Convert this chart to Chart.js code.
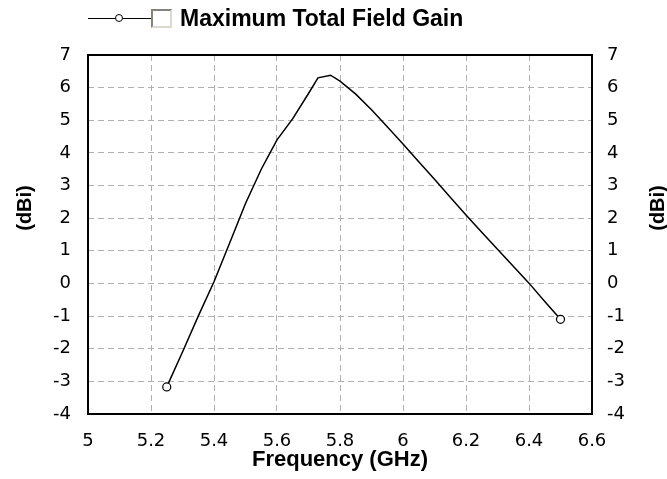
<!DOCTYPE html>
<html>
<head>
<meta charset="utf-8">
<script src="https://cdn.jsdelivr.net/npm/chart.js@4/dist/chart.umd.min.js"></script>
<style>
  body { margin: 0; background: #fff; }
  #wrap { position: relative; width: 667px; height: 479px; }
  #legend { position: absolute; left: 88px; top: 4px; height: 28px; display: flex; align-items: center;
            font-family: 'Liberation Sans', Arial, sans-serif; font-weight: bold; font-size: 23px; color: #000; }
  #legend .sym { position: relative; width: 63px; height: 28px; }
  #legend .sym .ln { position: absolute; left: 0; right: 0; top: 14px; border-top: 1px solid #000; }
  #legend .sym .pt { position: absolute; left: 27px; top: 10px; width: 8px; height: 8px; border: 1px solid #000;
                     border-radius: 50%; background: #fff; box-sizing: border-box; }
  #legend .box { width: 17px; height: 15px; margin-right: 8px; margin-top: 1px;
                 border-top: 2px solid #85837a; border-left: 2px solid #85837a;
                 border-right: 2px solid #dcd9d0; border-bottom: 2px solid #dcd9d0; background: #fff; }
</style>
</head>
<body>
<div id="wrap">
  <canvas id="gain" width="667" height="479"></canvas>
  <div id="legend"><div class="sym"><div class="ln"></div><div class="pt"></div></div><div class="box"></div><span>Maximum Total Field Gain</span></div>
</div>
<script>
// frequency (GHz) and gain (dBi)
var freqs = [5.25, 5.30, 5.35, 5.40, 5.45, 5.50, 5.55, 5.60, 5.65, 5.70, 5.73, 5.77, 5.80,
             5.85, 5.90, 5.95, 6.00, 6.05, 6.10, 6.15, 6.20, 6.25, 6.30, 6.35, 6.40, 6.45, 6.50];
var gains = [-3.17, -2.10, -1.00, 0.05, 1.25, 2.45, 3.50, 4.40, 5.05, 5.82, 6.30, 6.38, 6.20,
             5.80, 5.32, 4.80, 4.27, 3.73, 3.19, 2.64, 2.10, 1.57, 1.05, 0.53, 0.01, -0.55, -1.10];
var xTicks = [5, 5.2, 5.4, 5.6, 5.8, 6, 6.2, 6.4, 6.6];
var yTicks = [-4, -3, -2, -1, 0, 1, 2, 3, 4, 5, 6, 7];
var seriesName = 'Maximum Total Field Gain';
var xTitle = 'Frequency (GHz)';
var yTitle = '(dBi)';

Chart.defaults.font.family = "'Liberation Sans', Arial, sans-serif";
Chart.defaults.color = '#000';

var points = freqs.map(function (f, i) { return {x: f, y: gains[i]}; });
var last = points.length - 1;

var gridDash = [6, 4];
var gridColor = '#b0b0b0';
var tickFont = {family: "'DejaVu Sans', sans-serif", size: 18};

// frame around the plot plus the two rotated y titles
var framePlugin = {
  id: 'frame',
  afterDatasetsDraw: function (chart) {
    var a = chart.chartArea, c = chart.ctx;
    c.save();
    c.strokeStyle = '#000';
    c.lineWidth = 2;
    c.strokeRect(a.left, a.top, a.right - a.left, a.bottom - a.top);
    c.restore();
  },
  afterDraw: function (chart) {
    var c = chart.ctx;
    c.save();
    c.font = "bold 20px 'Liberation Sans', Arial, sans-serif";
    c.fillStyle = '#000';
    c.textAlign = 'center';
    c.textBaseline = 'middle';
    [[25, 208], [658, 208]].forEach(function (p) {
      c.save();
      c.translate(p[0], p[1]);
      c.rotate(-Math.PI / 2);
      c.fillText(yTitle, 0, 0);
      c.restore();
    });
    c.restore();
  }
};

var yAxis = function (side, pad, width) {
  return {
    type: 'linear',
    position: side,
    min: yTicks[0],
    max: yTicks[yTicks.length - 1],
    afterBuildTicks: function (s) { s.ticks = yTicks.map(function (v) { return {value: v}; }); },
    afterFit: function (s) { s.width = width; },
    ticks: { padding: pad, font: tickFont },
    grid: { display: side === 'left', color: gridColor, drawTicks: false, lineWidth: 1 },
    border: { display: false, dash: gridDash }
  };
};

new Chart(document.getElementById('gain'), {
  type: 'line',
  data: {
    datasets: [{
      label: seriesName,
      data: points,
      borderColor: '#000',
      borderWidth: 1.5,
      tension: 0,
      fill: false,
      pointRadius: function (ctx) { return (ctx.dataIndex === 0 || ctx.dataIndex === last) ? 4 : 0; },
      pointHoverRadius: 0,
      pointBackgroundColor: '#fff',
      pointBorderColor: '#000',
      pointBorderWidth: 1.2
    }]
  },
  options: {
    responsive: false,
    animation: false,
    devicePixelRatio: 1,
    layout: { padding: {top: 55, left: 0, right: 0, bottom: 0} },
    plugins: { legend: {display: false}, tooltip: {enabled: false} },
    scales: {
      x: {
        type: 'linear',
        min: xTicks[0],
        max: xTicks[xTicks.length - 1],
        afterBuildTicks: function (s) { s.ticks = xTicks.map(function (v) { return {value: v}; }); },
        afterFit: function (s) { s.height = 65; },
        ticks: {
          padding: 17,
          maxRotation: 0,
          font: tickFont,
          callback: function (v) { return String(Math.round(v * 10) / 10); }
        },
        grid: { color: gridColor, drawTicks: false, lineWidth: 1 },
        border: { display: false, dash: gridDash },
        title: { display: true, text: xTitle, font: {size: 22, weight: 'bold'}, padding: {top: 0, bottom: 6} }
      },
      y: yAxis('left', 17, 88),
      y2: yAxis('right', 15, 75)
    }
  },
  plugins: [framePlugin]
});
</script>
</body>
</html>
